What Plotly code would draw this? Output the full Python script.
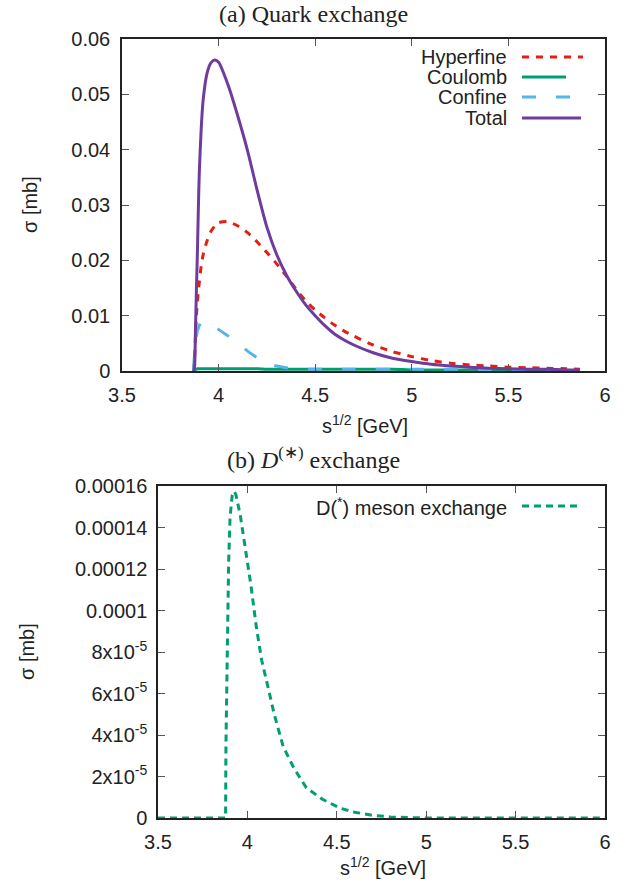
import plotly.graph_objects as go

# ---- data ----
x_top = [3.87, 3.875, 3.88, 3.885, 3.89, 3.895, 3.90, 3.91, 3.92, 3.94, 3.96, 3.98, 4.00,
         4.05, 4.10, 4.15, 4.20, 4.25, 4.30, 4.35, 4.40, 4.45, 4.50, 4.55, 4.60, 4.65, 4.70,
         4.80, 4.90, 5.00, 5.10, 5.20, 5.30, 5.40, 5.50, 5.60, 5.70, 5.80, 5.87]

hyperfine = [0.0, 0.002, 0.006, 0.010, 0.0125, 0.0145, 0.016, 0.019, 0.021, 0.0235, 0.0252, 0.0262, 0.0268,
             0.0270, 0.0262, 0.0250, 0.0233, 0.0214, 0.0194, 0.0172, 0.0148, 0.0127, 0.0110, 0.0096, 0.0083, 0.0072, 0.0063,
             0.0047, 0.0035, 0.0026, 0.0019, 0.0014, 0.0011, 0.0009, 0.0007, 0.0006, 0.0005, 0.0004, 0.0003]

coulomb = [0.0, 0.0002, 0.0003, 0.0003, 0.0004, 0.0004, 0.0004, 0.0004, 0.0004, 0.0004, 0.0004, 0.0004, 0.0004,
           0.0004, 0.0004, 0.0004, 0.0004, 0.0003, 0.0003, 0.0003, 0.0003, 0.0003, 0.0003, 0.0003, 0.0003, 0.0003, 0.0003,
           0.0003, 0.0003, 0.0002, 0.0002, 0.0002, 0.0002, 0.0002, 0.0002, 0.0002, 0.0001, 0.0001, 0.0001]

confine = [0.0, 0.003, 0.005, 0.0062, 0.0072, 0.0077, 0.0082, 0.0088, 0.0089, 0.0088, 0.0084, 0.0079, 0.0075,
           0.0063, 0.0050, 0.0036, 0.0024, 0.0014, 0.0009, 0.0006, 0.0004, 0.0003, 0.0003, 0.0003, 0.0003, 0.0003, 0.0003,
           0.0003, 0.0003, 0.0003, 0.0003, 0.0003, 0.0003, 0.0002, 0.0002, 0.0002, 0.0002, 0.0001, 0.0001]

total = [0.0, 0.0005, 0.007, 0.0145, 0.0210, 0.0290, 0.0358, 0.0438, 0.0490, 0.0538, 0.0557, 0.0562, 0.0558,
         0.0516, 0.0460, 0.0398, 0.0326, 0.0260, 0.0211, 0.0174, 0.0145, 0.0120, 0.0100, 0.0082, 0.0067, 0.0056, 0.0047,
         0.0033, 0.0023, 0.0017, 0.0012, 0.0009, 0.0007, 0.0005, 0.0004, 0.0003, 0.0003, 0.0002, 0.0002]

x_bot = [3.5, 3.6, 3.7, 3.8, 3.87, 3.878, 3.880, 3.884, 3.89, 3.895, 3.903, 3.915, 3.925, 3.935,
         3.96, 3.99, 4.02, 4.05, 4.08, 4.11, 4.15, 4.20, 4.26, 4.33, 4.42, 4.52, 4.60, 4.70,
         4.80, 4.90, 5.0, 5.5, 6.0]
d_meson = [0, 0, 0, 0, 0, 0, 3.5e-5, 6.6e-5, 9.9e-5, 1.23e-4, 1.45e-4, 1.555e-4, 1.575e-4, 1.56e-4,
           1.46e-4, 1.29e-4, 1.12e-4, 9.2e-5, 7.6e-5, 6.5e-5, 5.0e-5, 3.45e-5, 2.4e-5, 1.45e-5, 9e-6, 4.7e-6, 2.8e-6, 1.3e-6,
           5e-7, 2e-7, 0, 0, 0]

x_ticks = [3.5, 4, 4.5, 5, 5.5, 6]
x_ticklabels = ['3.5', '4', '4.5', '5', '5.5', '6']
y_top_ticks = [0, 0.01, 0.02, 0.03, 0.04, 0.05, 0.06]
y_top_labels = ['0', '0.01', '0.02', '0.03', '0.04', '0.05', '0.06']
y_bot_ticks = [0, 2e-5, 4e-5, 6e-5, 8e-5, 1e-4, 1.2e-4, 1.4e-4, 1.6e-4]
y_bot_labels = ['0', '2x10<sup>-5</sup>', '4x10<sup>-5</sup>', '6x10<sup>-5</sup>', '8x10<sup>-5</sup>',
                '0.0001', '0.00012', '0.00014', '0.00016']

RED = '#e51e10'
GREEN = '#009e73'
BLUE = '#56b4e9'
PURPLE = '#6f3c9e'
W, H = 641, 891
SANS = 'Liberation Sans, Arial, sans-serif'
SERIF = 'Liberation Serif, Times New Roman, serif'
AXC = '#222222'
DASH_HF = '7px,7px'
DASH_CF = '14px,20px'
DASH_D = '7px,5px'

fig = go.Figure()

top_series = [
    ('Hyperfine', hyperfine, RED, DASH_HF),
    ('Coulomb', coulomb, GREEN, 'solid'),
    ('Confine', confine, BLUE, DASH_CF),
    ('Total', total, PURPLE, 'solid'),
]
for name, ys, col, dash in top_series:
    fig.add_trace(go.Scatter(x=x_top, y=ys, mode='lines', name=name,
                             line=dict(color=col, width=3, dash=dash, shape='spline', smoothing=0.6),
                             xaxis='x', yaxis='y', showlegend=False))

fig.add_trace(go.Scatter(x=x_bot, y=d_meson, mode='lines', name='D(*) meson exchange',
                         line=dict(color=GREEN, width=3, dash=DASH_D),
                         xaxis='x2', yaxis='y2', showlegend=False))


# positions measured in screenshot pixels -> paper fractions
def px_x(p):
    return p / W


def px_y(p):
    return 1 - p / H


axis_common = dict(
    showline=True, linecolor=AXC, linewidth=1.5, mirror='allticks',
    ticks='inside', ticklen=7, tickcolor='#555555', tickwidth=1,
    showgrid=False, zeroline=False, automargin=False,
    tickfont=dict(family=SANS, size=20, color=AXC),
)

fig.update_layout(
    width=W, height=H,
    margin=dict(l=0, r=0, t=0, b=0),
    plot_bgcolor='white', paper_bgcolor='white',
    showlegend=False,
    xaxis=dict(domain=[px_x(122), px_x(605)], range=[3.5, 6], anchor='y',
               tickvals=x_ticks, ticktext=x_ticklabels, ticklabelstandoff=5, **axis_common),
    yaxis=dict(domain=[px_y(371), px_y(39)], range=[0, 0.06], anchor='x',
               tickvals=y_top_ticks, ticktext=y_top_labels, ticklabelstandoff=6, **axis_common),
    xaxis2=dict(domain=[px_x(158), px_x(605)], range=[3.5, 6], anchor='y2',
                tickvals=x_ticks, ticktext=x_ticklabels, ticklabelstandoff=5, **axis_common),
    yaxis2=dict(domain=[px_y(818), px_y(486)], range=[0, 0.00016], anchor='x2',
                tickvals=y_bot_ticks, ticktext=y_bot_labels, ticklabelstandoff=5, **axis_common),
)

annotations = [
    dict(x=px_x(313), y=px_y(14), text='(a) Quark exchange',
         font=dict(family=SERIF, size=24, color='#222')),
    dict(x=px_x(313), y=px_y(458), text='(b) <i>D</i><sup>(∗)</sup> exchange',
         font=dict(family=SERIF, size=24, color='#222')),
    dict(x=px_x(30), y=px_y(205), text='σ [mb]', textangle=-90,
         font=dict(family=SANS, size=20, color=AXC)),
    dict(x=px_x(27), y=px_y(652), text='σ [mb]', textangle=-90,
         font=dict(family=SANS, size=20, color=AXC)),
    dict(x=px_x(365), y=px_y(424), text='s<sup>1/2</sup> [GeV]',
         font=dict(family=SANS, size=20, color=AXC)),
    dict(x=px_x(383), y=px_y(866), text='s<sup>1/2</sup> [GeV]',
         font=dict(family=SANS, size=20, color=AXC)),
]

# legend entries, gnuplot style: text right-aligned, sample to the right
legend_rows = [
    ('Hyperfine', RED, DASH_HF, 57, 583),
    ('Coulomb', GREEN, 'solid', 77, 566),
    ('Confine', BLUE, DASH_CF, 97, 574),
    ('Total', PURPLE, 'solid', 118, 581),
    ('D(<sup>*</sup>) meson exchange', GREEN, DASH_D, 506, 582),
]
shapes = []
for label, col, dash, yp, xend in legend_rows:
    annotations.append(dict(x=px_x(509), y=px_y(yp), text=label, xanchor='right',
                            font=dict(family=SANS, size=20, color=AXC)))
    shapes.append(dict(type='line', xref='paper', yref='paper',
                       x0=px_x(522), x1=px_x(xend), y0=px_y(yp), y1=px_y(yp),
                       line=dict(color=col, width=3, dash=dash)))

for a in annotations:
    a.setdefault('xref', 'paper')
    a.setdefault('yref', 'paper')
    a.setdefault('showarrow', False)
    a.setdefault('xanchor', 'center')
    a.setdefault('yanchor', 'middle')

fig.update_layout(annotations=annotations, shapes=shapes)

# drop the browser's default body margin so the figure fills the window exactly
fig.write_html('out.html', config={'displayModeBar': False},
               post_script="document.body.style.margin='0px';")
